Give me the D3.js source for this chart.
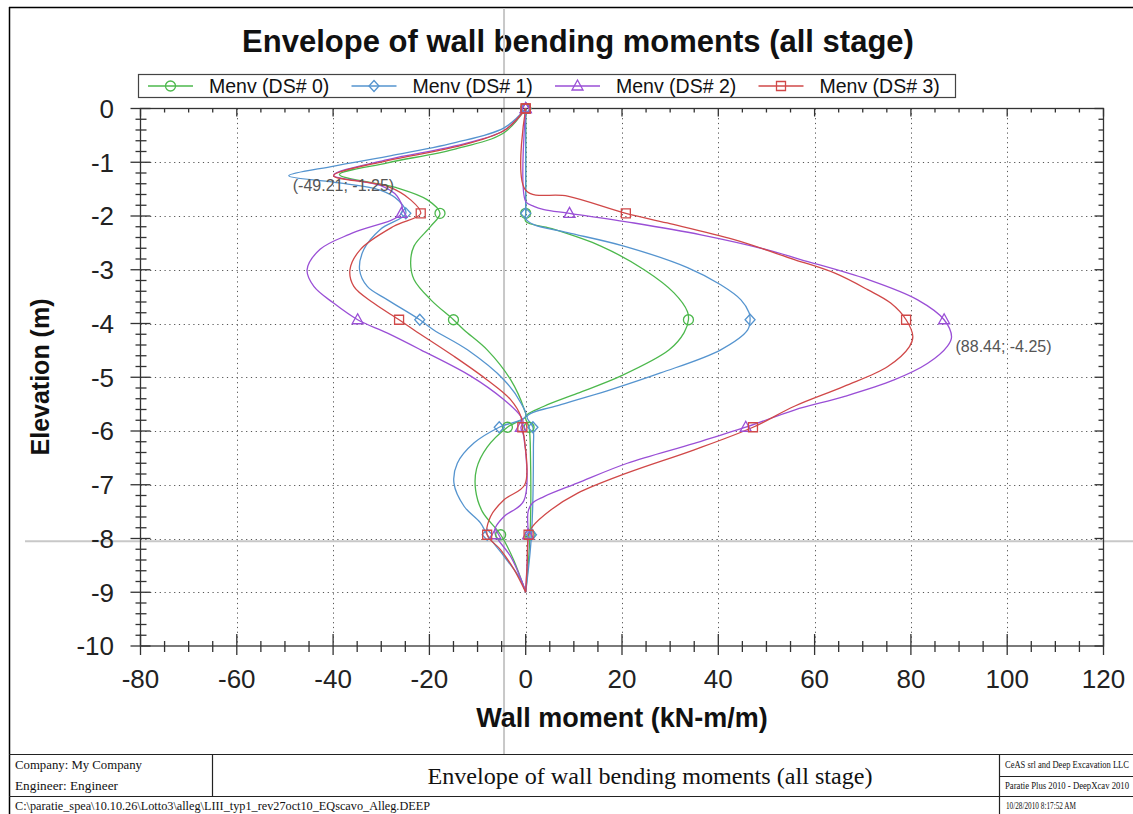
<!DOCTYPE html>
<html>
<head>
<meta charset="utf-8">
<title>Envelope of wall bending moments</title>
<script src="https://cdn.jsdelivr.net/npm/d3@7"></script>
<style>
body { margin:0; background:#fff; }
svg { display:block; font-family:"Liberation Sans", Arial, sans-serif; }
.serif { font-family:"Liberation Serif", "Times New Roman", serif; }
</style>
</head>
<body>
<div id="chart"></div>
<script>
// series names + colours
var seriesNames = ["Menv (DS# 0)", "Menv (DS# 1)", "Menv (DS# 2)", "Menv (DS# 3)"];
var seriesColors = ["#4cb84c", "#5594cf", "#9a4fd6", "#d04848"];
var seriesSymbols = ["circle", "diamond", "triangle", "square"];

// [moment kN-m/m, elevation m], negative envelope (min) and positive envelope (max)
var minDS0 = [[0,0],[-4.5,-0.45],[-14.9,-0.76],[-28.7,-1.01],[-38.7,-1.23],[-26.6,-1.48],[-20.4,-1.7],[-17.8,-1.95],
  [-19.7,-2.19],[-23.2,-2.56],[-23.9,-2.87],[-23.2,-3.18],[-19.7,-3.56],[-15,-3.93],[-12.8,-4.12],[-8,-4.49],
  [-3.1,-5.05],[-0.3,-5.6],[0,-5.73],[-3.8,-5.93],[-8,-6.3],[-10.2,-6.7],[-10.4,-7.1],[-9,-7.5],[-5.2,-7.93],
  [-2.5,-8.4],[0,-9]];
var maxDS0 = [[0,0],[0,-1.95],[0,-2.1],[5.2,-2.23],[15.6,-2.56],[24.6,-3.0],[30.8,-3.43],[33.6,-3.78],[33.8,-3.93],
  [32.9,-4.17],[29.8,-4.49],[19.7,-4.98],[10.7,-5.3],[3.8,-5.54],[0,-5.73],[0.7,-5.93],[1,-6.5],[0.9,-7.93],[0,-9]];

var minDS1 = [[0,0],[-4.5,-0.36],[-14.9,-0.64],[-28.7,-0.89],[-39.8,-1.07],[-49.21,-1.25],[-39.9,-1.37],[-30.2,-1.52],
  [-26.3,-1.72],[-24.9,-1.95],[-30.2,-2.25],[-33.6,-2.62],[-34.5,-3.0],[-32.9,-3.31],[-28.7,-3.56],[-22,-3.93],
  [-19.1,-4.12],[-12.1,-4.49],[-4.5,-5.05],[-1,-5.48],[0,-5.73],[-5.5,-5.93],[-10.7,-6.22],[-14.2,-6.6],[-14.9,-6.97],
  [-12.8,-7.4],[-9.4,-7.71],[-8,-7.93],[-4.5,-8.33],[-1,-8.77],[0,-9]];
var maxDS1 = [[0,0],[0,-1.95],[0,-2.05],[1.7,-2.16],[8.7,-2.31],[20.4,-2.56],[33.6,-2.96],[40.5,-3.28],[44.7,-3.56],
  [46.4,-3.8],[46.6,-3.93],[46.1,-4.12],[40.5,-4.49],[28,-4.92],[17.7,-5.23],[7.3,-5.51],[0.3,-5.73],[1.5,-5.93],
  [1.6,-6.3],[1.2,-7.93],[0,-9]];

var minDS2 = [[0,0],[-4.5,-0.41],[-14.9,-0.7],[-28.7,-0.95],[-39.9,-1.24],[-30.2,-1.43],[-26.7,-1.63],[-25.8,-1.95],
  [-35.8,-2.31],[-42.7,-2.62],[-45.4,-3.0],[-44,-3.31],[-39.9,-3.62],[-34.9,-3.93],[-28.7,-4.18],[-21.8,-4.49],
  [-11.4,-4.98],[-4.5,-5.42],[-1,-5.73],[-0.5,-5.85],[-1,-5.93],[-0.4,-6.1],[-0.4,-7.3],[-4.5,-7.59],[-6.3,-7.8],
  [-6.3,-7.93],[-3.1,-8.34],[-1,-8.75],[0,-9]];
var maxDS2 = [[0,0],[0,-1.73],[1.7,-1.82],[3.8,-1.88],[9.1,-1.95],[22.5,-2.13],[36.4,-2.35],[50.2,-2.63],[57.1,-2.81],
  [71,-3.18],[81.4,-3.56],[86.9,-3.93],[88.44,-4.25],[87.6,-4.42],[83.5,-4.74],[76.5,-5.05],[66.1,-5.36],[55.8,-5.61],
  [45.7,-5.93],[35,-6.23],[21.1,-6.6],[10.7,-6.97],[3.8,-7.22],[1.4,-7.34],[0.5,-7.5],[0.5,-7.93],[0,-9]];

var minDS3 = [[0,0],[-4.5,-0.41],[-14.9,-0.72],[-28.7,-0.97],[-39.9,-1.25],[-28.7,-1.45],[-23.9,-1.7],[-21.8,-1.95],
  [-27.4,-2.19],[-34.3,-2.62],[-36.5,-3.0],[-35.7,-3.31],[-31.6,-3.62],[-26.3,-3.93],[-23.2,-4.12],[-14.9,-4.61],
  [-8,-5.05],[-3.1,-5.42],[-1,-5.73],[-0.7,-5.93],[-0.2,-6.2],[-0.2,-7.0],[-4.5,-7.28],[-7.3,-7.59],[-8,-7.93],
  [-5.2,-8.21],[-2.4,-8.58],[0,-9]];
var maxDS3 = [[0,0],[0,-1.52],[8.7,-1.63],[20.8,-1.95],[29.4,-2.13],[43.3,-2.44],[55.8,-2.81],[64.1,-3.06],[71,-3.37],
  [75.8,-3.62],[79,-3.93],[80.4,-4.24],[79.7,-4.43],[75.2,-4.8],[66.1,-5.17],[55.8,-5.54],[47.2,-5.93],[35,-6.35],
  [21.1,-6.78],[10.7,-7.16],[5.2,-7.47],[1.4,-7.78],[0.6,-7.93],[0.3,-8.5],[0,-9]];

var minBranches = [minDS0, minDS1, minDS2, minDS3];
var maxBranches = [maxDS0, maxDS1, maxDS2, maxDS3];
var markerElevations = [0, -1.95, -3.93, -5.93, -7.93];

// ticks
var xMajor = [-80,-60,-40,-20,0,20,40,60,80,100,120];
var yMajor = [0,-1,-2,-3,-4,-5,-6,-7,-8,-9,-10];
var xMinor = d3.range(-80, 121, 5);
var yMinor = d3.range(0, 51).map(function(i){ return -i*0.2; });

var annotations = [[-49.21,-1.25],[88.44,-4.25]];
var cursor = [-4.5, -8.05];

var W = 1133, H = 814;
var svg = d3.select("#chart").append("svg").attr("width", W).attr("height", H);

var x = d3.scaleLinear().domain([-80,120]).range([140.5, 1103.5]);
var y = d3.scaleLinear().domain([-10,0]).range([646, 108.5]);

// outer frame
svg.append("line").attr("x1",9).attr("x2",W).attr("y1",7.5).attr("y2",7.5).attr("stroke","#000").attr("stroke-width",1.5);
svg.append("line").attr("x1",9.5).attr("x2",9.5).attr("y1",7).attr("y2",H).attr("stroke","#000").attr("stroke-width",1.5);

// title
svg.append("text").attr("x",578).attr("y",52).attr("text-anchor","middle")
  .attr("font-size",31).attr("font-weight","bold").attr("fill","#111")
  .text("Envelope of wall bending moments (all stage)");

// grid
var grid = svg.append("g").attr("stroke","#555").attr("stroke-width",1).attr("stroke-dasharray","1.2,3.6");
grid.selectAll(".gx").data(xMajor.slice(1,-1)).enter().append("line")
  .attr("x1",function(d){return Math.round(x(d))+0.5;}).attr("x2",function(d){return Math.round(x(d))+0.5;})
  .attr("y1",y(0)).attr("y2",y(-10));
grid.selectAll(".gy").data(yMajor.slice(1,-1)).enter().append("line")
  .attr("y1",function(d){return Math.round(y(d))+0.5;}).attr("y2",function(d){return Math.round(y(d))+0.5;})
  .attr("x1",x(-80)).attr("x2",x(120));

// cursor crosshair
svg.append("line").attr("x1",x(cursor[0])).attr("x2",x(cursor[0])).attr("y1",8).attr("y2",755)
  .attr("stroke","#c8c8c8").attr("stroke-width",2);
svg.append("line").attr("x1",25).attr("x2",W).attr("y1",y(cursor[1])).attr("y2",y(cursor[1]))
  .attr("stroke","#c8c8c8").attr("stroke-width",2);

// axes frame
var ax = svg.append("g").attr("stroke","#333").attr("stroke-width",1.3);
ax.append("rect").attr("x",x(-80)).attr("y",y(0)).attr("width",x(120)-x(-80)).attr("height",y(-10)-y(0)).attr("fill","none");
// bottom ticks
ax.selectAll(".bt").data(xMinor).enter().append("line")
  .attr("x1",function(d){return x(d);}).attr("x2",function(d){return x(d);})
  .attr("y1",function(d){return y(-10) - (d % 20 === 0 ? 12 : 5);})
  .attr("y2",function(d){return y(-10) + (d % 20 === 0 ? 9 : 6);});
// top ticks
ax.selectAll(".tt").data(xMinor).enter().append("line")
  .attr("x1",function(d){return x(d);}).attr("x2",function(d){return x(d);})
  .attr("y1",y(0)).attr("y2",function(d){return y(0) + (d % 20 === 0 ? 8 : 4);});
// left ticks
ax.selectAll(".lt").data(yMinor).enter().append("line")
  .attr("y1",function(d){return y(d);}).attr("y2",function(d){return y(d);})
  .attr("x1",function(d,i){return x(-80) - (i % 5 === 0 ? 10 : 5);})
  .attr("x2",function(d,i){return x(-80) + (i % 5 === 0 ? 10 : 6);});
// right ticks
ax.selectAll(".rt").data(yMinor).enter().append("line")
  .attr("y1",function(d){return y(d);}).attr("y2",function(d){return y(d);})
  .attr("x1",function(d,i){return x(120) - (i % 5 === 0 ? 9 : 5);}).attr("x2",x(120));

// tick labels
svg.append("g").selectAll("text").data(xMajor).enter().append("text")
  .attr("x",function(d){return x(d);}).attr("y",688).attr("text-anchor","middle")
  .attr("font-size",26).attr("fill","#222").text(function(d){return d;});
svg.append("g").selectAll("text").data(yMajor).enter().append("text")
  .attr("x",114).attr("y",function(d){return y(d);}).attr("dy","0.36em").attr("text-anchor","end")
  .attr("font-size",26).attr("fill","#222").text(function(d){return d;});

// axis titles
svg.append("text").attr("x",622).attr("y",727).attr("text-anchor","middle")
  .attr("font-size",27).attr("font-weight","bold").attr("fill","#111").text("Wall moment (kN-m/m)");
svg.append("text").attr("transform","translate(49,377) rotate(-90)").attr("text-anchor","middle")
  .attr("font-size",25).attr("font-weight","bold").attr("fill","#111").text("Elevation (m)");

// markers
function marker(g, type, cx, cy, color) {
  var s;
  if (type === "circle") {
    g.append("circle").attr("cx",cx).attr("cy",cy).attr("r",5).attr("fill","none").attr("stroke",color).attr("stroke-width",1.3);
    return;
  }
  if (type === "diamond") s = [[0,-5.5],[5,0],[0,5.5],[-5,0]];
  if (type === "triangle") s = [[0,-6],[5.5,4],[-5.5,4]];
  if (type === "square") s = [[-4.5,-4.5],[4.5,-4.5],[4.5,4.5],[-4.5,4.5]];
  g.append("polygon").attr("points", s.map(function(p){return (cx+p[0])+","+(cy+p[1]);}).join(" "))
    .attr("fill","none").attr("stroke",color).attr("stroke-width",1.3);
}

// curves
var line = d3.line().x(function(d){return x(d[0]);}).y(function(d){return y(d[1]);})
  .curve(d3.curveCatmullRom.alpha(0.5));
var plot = svg.append("g");
[0,1,2,3].forEach(function(i){
  [minBranches[i], maxBranches[i]].forEach(function(br){
    plot.append("path").datum(br).attr("d", line).attr("fill","none")
      .attr("stroke", seriesColors[i]).attr("stroke-width",1.3);
  });
});
[0,1,2,3].forEach(function(i){
  [minBranches[i], maxBranches[i]].forEach(function(br){
    br.filter(function(p){ return markerElevations.indexOf(p[1]) >= 0; }).forEach(function(p){
      marker(plot, seriesSymbols[i], x(p[0]), y(p[1]), seriesColors[i]);
    });
  });
});

// annotations
svg.append("g").selectAll("text").data(annotations).enter().append("text")
  .attr("x",function(d){return x(d[0]) + 4;}).attr("y",function(d){return y(d[1]) + 15;})
  .attr("font-size",16).attr("fill","#555")
  .text(function(d){return "(" + d[0].toFixed(2) + "; " + d[1].toFixed(2) + ")";});

// legend
var leg = svg.append("g");
leg.append("rect").attr("x",138.5).attr("y",74.5).attr("width",817).attr("height",23)
  .attr("fill","#fff").attr("stroke","#444").attr("stroke-width",1.2);
seriesNames.forEach(function(name, i){
  var x0 = 148 + i*203.5;
  leg.append("line").attr("x1",x0).attr("x2",x0+45).attr("y1",86).attr("y2",86)
    .attr("stroke",seriesColors[i]).attr("stroke-width",1.3);
  marker(leg, seriesSymbols[i], x0+22.5, 86, seriesColors[i]);
  leg.append("text").attr("x",x0+61).attr("y",93).attr("font-size",19.5).attr("fill","#111").text(name);
});

// footer
var ft = svg.append("g").attr("stroke","#222").attr("stroke-width",1.2);
ft.append("line").attr("x1",9).attr("x2",W).attr("y1",754.5).attr("y2",754.5);
ft.append("line").attr("x1",9).attr("x2",W).attr("y1",796.5).attr("y2",796.5);
ft.append("line").attr("x1",212.5).attr("x2",212.5).attr("y1",754.5).attr("y2",796.5);
ft.append("line").attr("x1",999.5).attr("x2",999.5).attr("y1",754.5).attr("y2",H);
ft.append("line").attr("x1",999.5).attr("x2",W).attr("y1",776.5).attr("y2",776.5);

var fx = svg.append("g").attr("class","serif").attr("fill","#111");
function ftext(tx, ty, size, len, str, anchor) {
  fx.append("text").attr("x",tx).attr("y",ty).attr("font-size",size)
    .attr("text-anchor", anchor || "start")
    .attr("textLength",len).attr("lengthAdjust","spacingAndGlyphs").text(str);
}
ftext(15, 769, 12, 127, "Company: My Company");
ftext(15, 790, 12, 103, "Engineer: Engineer");
ftext(15, 810, 12, 415, "C:\\paratie_spea\\10.10.26\\Lotto3\\alleg\\LIII_typ1_rev27oct10_EQscavo_Alleg.DEEP");
ftext(650, 784, 24, 445, "Envelope of wall bending moments (all stage)", "middle");
ftext(1005, 768, 9.5, 124, "CeAS srl and Deep Excavation LLC");
ftext(1005, 789, 9.5, 124, "Paratie Plus 2010 - DeepXcav 2010");
ftext(1006, 809, 9.5, 70, "10/28/2010 8:17:52 AM");
</script>
</body>
</html>
